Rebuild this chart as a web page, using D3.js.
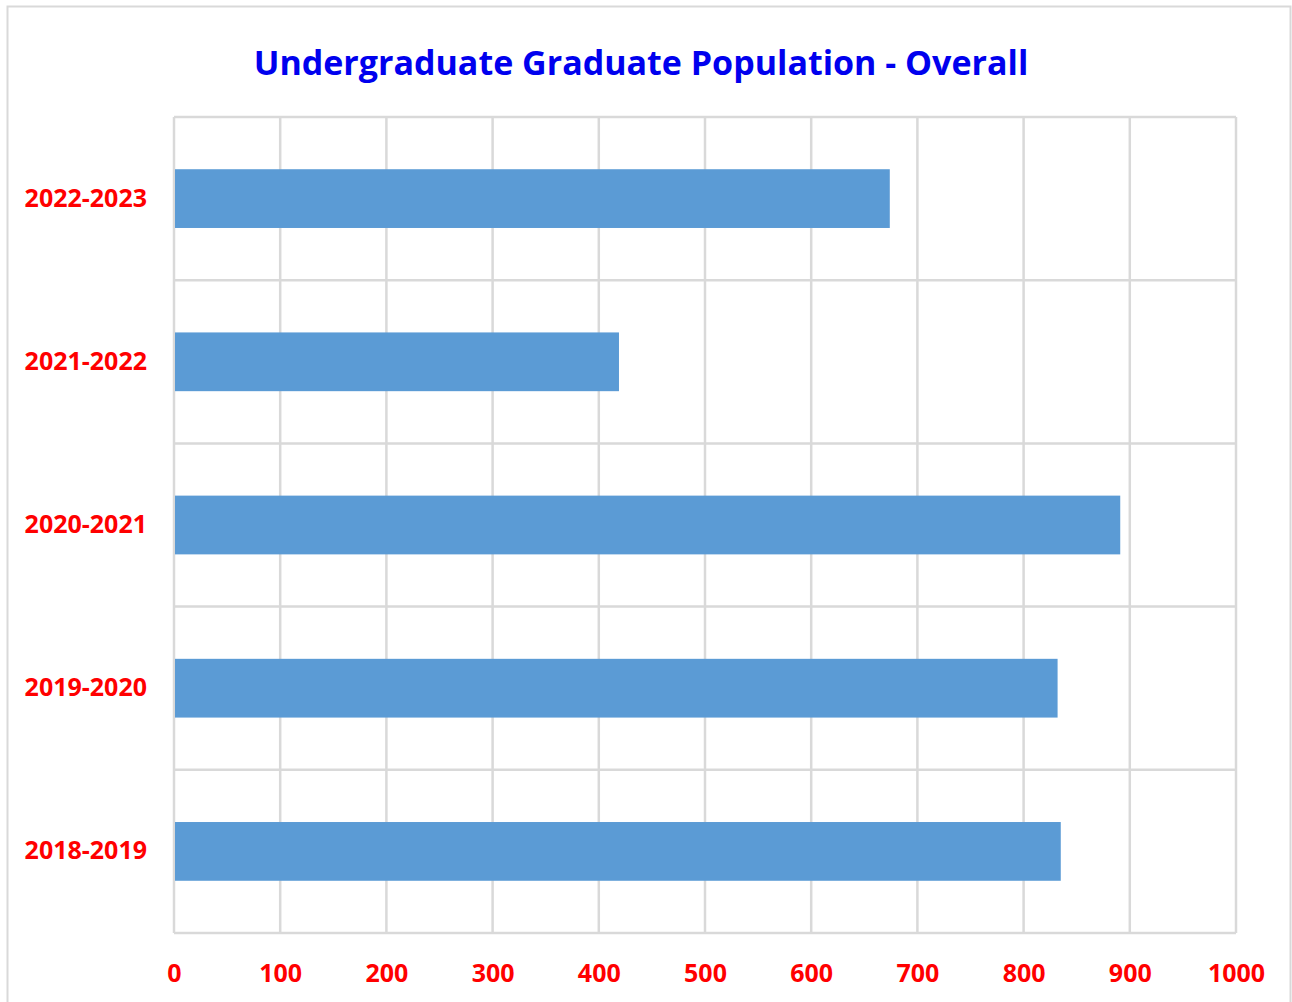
<!DOCTYPE html>
<html>
<head>
<meta charset="utf-8">
<script src="https://cdn.jsdelivr.net/npm/d3@7"></script>
<style>
  body { margin: 0; background: #fff; }
  svg { display: block; }
</style>
</head>
<body>
<svg id="chart" width="1292" height="1002"></svg>
<script>
// data
const years = ['2022-2023', '2021-2022', '2020-2021', '2019-2020', '2018-2019'];
const population = [674, 419, 891, 832, 835];
const xTicks = [0, 100, 200, 300, 400, 500, 600, 700, 800, 900, 1000];

const svg = d3.select('#chart');
const font = "'Open Sans', 'Noto Sans', sans-serif";

const margin = { top: 117, right: 56, bottom: 69, left: 174 };
const width = 1292 - margin.left - margin.right;
const height = 1002 - margin.top - margin.bottom;

// outer chart border
svg.append('rect')
    .attr('x', 7.5).attr('y', 6.5)
    .attr('width', 1283).attr('height', 1000)
    .attr('fill', 'none')
    .attr('stroke', '#d9d9d9')
    .attr('stroke-width', 2);

const g = svg.append('g')
    .attr('transform', `translate(${margin.left},${margin.top})`);

const x = d3.scaleLinear().domain([0, 1000]).range([0, width]);
const y = d3.scaleBand().domain(years).range([0, height]).paddingInner(0.64).paddingOuter(0.32);

// vertical gridlines
g.selectAll('.vgrid')
    .data(xTicks)
    .enter()
    .append('line')
    .attr('x1', d => x(d)).attr('x2', d => x(d))
    .attr('y1', 0).attr('y2', height)
    .attr('stroke', '#d9d9d9')
    .attr('stroke-width', 2.5);

// horizontal lines at category boundaries
const bounds = d3.range(years.length + 1).map(i => i * height / years.length);
g.selectAll('.hgrid')
    .data(bounds)
    .enter()
    .append('line')
    .attr('x1', 0).attr('x2', width)
    .attr('y1', d => d).attr('y2', d => d)
    .attr('stroke', '#d9d9d9')
    .attr('stroke-width', 2.5);

// bars
g.selectAll('.bar')
    .data(years)
    .enter()
    .append('rect')
    .attr('class', 'bar')
    .attr('x', x(0) + 1)
    .attr('y', d => y(d))
    .attr('width', (d, i) => x(population[i]) - x(0) - 1)
    .attr('height', y.bandwidth())
    .attr('fill', '#5b9bd5');

// x axis labels
const xAxis = g.append('g')
    .attr('transform', `translate(0,${height})`)
    .call(d3.axisBottom(x).tickValues(xTicks).tickSize(0).tickPadding(31).tickFormat(d3.format('d')));
xAxis.select('.domain').remove();
xAxis.selectAll('text')
    .attr('fill', '#ff0000')
    .attr('font-family', font)
    .attr('font-weight', 'bold')
    .attr('font-size', '25px');

// y axis labels
const yAxis = g.append('g')
    .call(d3.axisLeft(y).tickSize(0).tickPadding(27));
yAxis.select('.domain').remove();
yAxis.selectAll('text')
    .attr('fill', '#ff0000')
    .attr('font-family', font)
    .attr('font-weight', 'bold')
    .attr('font-size', '25px');

// title
svg.append('text')
    .attr('x', 641)
    .attr('y', 75)
    .attr('text-anchor', 'middle')
    .attr('fill', '#0000ee')
    .attr('font-family', font)
    .attr('font-weight', 'bold')
    .attr('font-size', '34px')
    .text('Undergraduate Graduate Population - Overall');
</script>
</body>
</html>
